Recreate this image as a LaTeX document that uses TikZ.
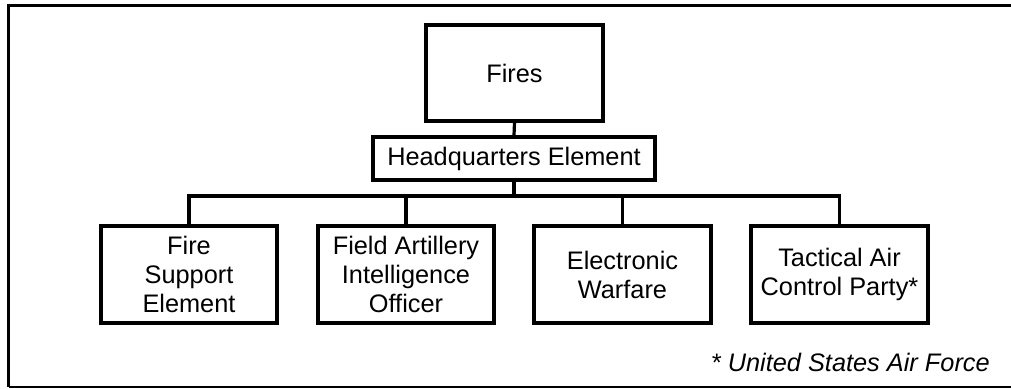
\documentclass[tikz,border=0pt]{standalone}
\usepackage{fontspec}
\setmainfont{Liberation Sans}
\begin{document}
\begin{tikzpicture}[x=0.75pt,y=-0.75pt,
  box/.style={draw=black, line width=2.4pt, inner sep=0pt, align=center,
    font=\fontsize{19}{21.75}\selectfont},
  conn/.style={draw=black, line width=2.4pt}]
\useasboundingbox (0,0) rectangle (1011,389);
% frame
\draw[line width=2.6pt] (8.5,387) -- (8.5,5.5) -- (1011,5.5);
\draw[line width=1pt] (8.5,387) -- (1011,387);
% nodes
\node[box, minimum width=177*0.75pt, minimum height=96*0.75pt] (fires) at (514.5,73) {Fires};
\node[box, minimum width=282*0.75pt, minimum height=43*0.75pt] (hq) at (514,158.5) {Headquarters Element};
\node[box, minimum width=176*0.75pt, minimum height=97*0.75pt] (fse) at (189,274.5) {Fire\\Support\\Element};
\node[box, minimum width=176*0.75pt, minimum height=97*0.75pt] (fai) at (406,274.5) {Field Artillery\\Intelligence\\Officer};
\node[box, minimum width=177*0.75pt, minimum height=97*0.75pt] (ew) at (622.5,274.5) {Electronic\\Warfare};
\node[box, minimum width=177*0.75pt, minimum height=97*0.75pt] (tacp) at (839.5,274.5) {Tactical Air\\Control Party*};
\node[font=\fontsize{19}{21.75}\selectfont\itshape, anchor=east, inner sep=0pt] (note) at (990,362) {* United States Air Force};
% connectors
\coordinate (bus) at (514,196);
\draw[conn] (fires.south) -- (hq.north);
\draw[conn] (hq.south) -- (bus);
\draw[conn] (fse.north) |- (bus) -| (tacp.north);
\draw[conn] (fai.north) -- (fai.north |- bus);
\draw[conn] (ew.north) -- (ew.north |- bus);
\end{tikzpicture}
\end{document}
